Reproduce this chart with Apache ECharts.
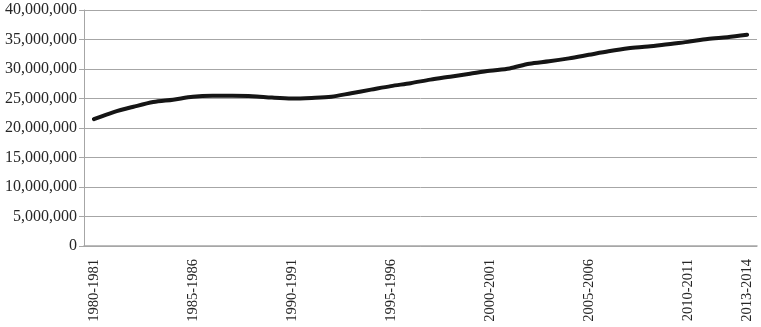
<!DOCTYPE html>
<html>
<head>
<meta charset="utf-8">
<script src="https://cdn.jsdelivr.net/npm/echarts@6/dist/echarts.min.js"></script>
<style>html,body{margin:0;padding:0;background:#fff}#c{width:761px;height:327px}</style>
</head>
<body>
<div id="c"></div>
<script>
const categories = [];
for (let y = 1980; y <= 2013; y++) categories.push(y + '-' + (y + 1));
const values = [
  21.5, 22.7, 23.6, 24.4, 24.8, 25.3, 25.45, 25.45, 25.4, 25.15,
  25.0, 25.1, 25.3, 25.9, 26.5, 27.1, 27.6, 28.2, 28.7, 29.2,
  29.7, 30.1, 30.9, 31.3, 31.8, 32.4, 33.0, 33.5, 33.8, 34.2,
  34.6, 35.1, 35.4, 35.8
].map(v => Math.round(v * 1e6));
const yMin = 0, yMax = 40000000, yStep = 5000000;

const chart = echarts.init(document.getElementById('c'));
const font = '"Liberation Serif", "Times New Roman", serif';
chart.setOption({
  animation: false,
  grid: { left: 84, right: 4, top: 10, bottom: 81, containLabel: false },
  xAxis: {
    type: 'category',
    data: categories,
    boundaryGap: true,
    axisLine: { lineStyle: { color: '#a6a6a6', width: 1.5 } },
    axisTick: { show: false },
    axisLabel: {
      rotate: 90,
      interval: (i) => i % 5 === 0 || i === categories.length - 1,
      margin: 13,
      padding: [0, 0, 8, 0],
      color: '#262626',
      fontFamily: font,
      fontSize: 14.5
    }
  },
  yAxis: {
    type: 'value',
    min: yMin, max: yMax, interval: yStep,
    axisLine: { show: true, lineStyle: { color: '#a6a6a6', width: 1 } },
    axisTick: { show: true, length: 5, lineStyle: { color: '#a6a6a6' } },
    splitLine: { lineStyle: { color: '#a6a6a6', width: 1 } },
    axisLabel: {
      margin: 7,
      color: '#262626',
      fontFamily: font,
      fontSize: 16,
      formatter: (v) => v.toLocaleString('en-US')
    }
  },
  series: [{
    type: 'line',
    data: values,
    smooth: 0.3,
    showSymbol: false,
    lineStyle: { color: '#151515', width: 4, cap: 'round' }
  }]
});
</script>
</body>
</html>
